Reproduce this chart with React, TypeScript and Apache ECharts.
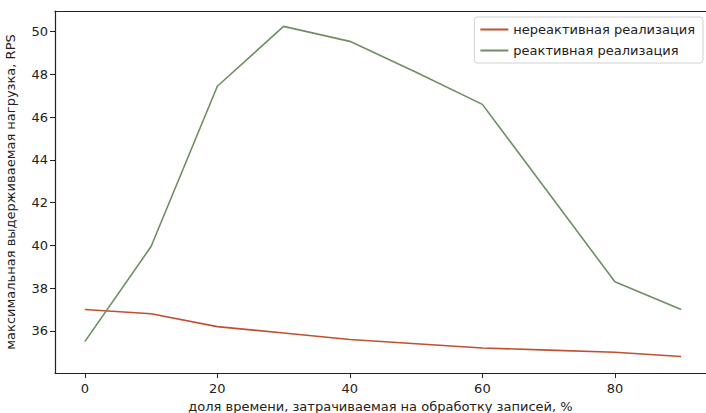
import React, { useEffect, useRef } from "react";
import * as echarts from "echarts";

const xValues = [0, 10, 20, 30, 40, 50, 60, 70, 80, 90];
const nonReactive = [37.0, 36.8, 36.2, 35.9, 35.6, 35.4, 35.2, 35.1, 35.0, 34.8];
const reactive = [35.5, 39.95, 47.45, 50.25, 49.55, 48.1, 46.6, 42.45, 38.3, 37.0];
const xTicks = [0, 20, 40, 60, 80];
const yTicks = [36, 38, 40, 42, 44, 46, 48, 50];
const seriesNames = ["нереактивная реализация", "реактивная реализация"];

const FONT = "DejaVu Sans";

export default function App() {
  const ref = useRef<HTMLDivElement>(null);
  useEffect(() => {
    if (!ref.current) return;
    const chart = echarts.init(ref.current, undefined, { renderer: "svg" });
    const axisLine = { show: true, onZero: false, lineStyle: { color: "#222", width: 1.2 } };
    chart.setOption({
      animation: false,
      backgroundColor: "#fff",
      grid: { left: 55, right: 0, top: 11, bottom: 40, outerBoundsMode: "none", containLabel: false },
      legend: {
        orient: "vertical",
        right: 3,
        top: 17,
        data: seriesNames,
        icon: "rect",
        itemWidth: 28,
        itemHeight: 2,
        itemGap: 8,
        padding: [6, 8, 6, 6],
        borderColor: "#d0d0d0",
        borderWidth: 1,
        borderRadius: 3,
        textStyle: { fontFamily: FONT, fontSize: 13, color: "#222" },
      },
      xAxis: [
        {
          type: "value",
          min: -4.5,
          max: 93.75,
          position: "bottom",
          name: "доля времени, затрачиваемая на обработку записей, %",
          nameLocation: "middle",
          nameGap: 27,
          nameTextStyle: { fontFamily: FONT, fontSize: 13, color: "#222" },
          axisLine,
          axisTick: { show: true, customValues: xTicks, length: 5, lineStyle: { color: "#222" } },
          axisLabel: { customValues: xTicks, fontFamily: FONT, fontSize: 13, color: "#222", margin: 9 },
          splitLine: { show: false },
        },
        {
          type: "value",
          min: -4.5,
          max: 93.75,
          position: "top",
          axisLine,
          axisTick: { show: false },
          axisLabel: { show: false },
          splitLine: { show: false },
        },
      ],
      yAxis: {
        type: "value",
        min: 34.03,
        max: 50.97,
        name: "максимальная выдерживаемая нагрузка, RPS",
        nameLocation: "middle",
        nameGap: 38,
        nameTextStyle: { fontFamily: FONT, fontSize: 13, color: "#222" },
        axisLine,
        axisTick: { show: true, customValues: yTicks, length: 5, lineStyle: { color: "#222" } },
        axisLabel: { customValues: yTicks, fontFamily: FONT, fontSize: 13, color: "#222", margin: 7 },
        splitLine: { show: false },
      },
      series: [
        {
          name: seriesNames[0],
          type: "line",
          data: xValues.map((x, i) => [x, nonReactive[i]]),
          showSymbol: false,
          itemStyle: { color: "#c0502f" },
          lineStyle: { color: "#c0502f", width: 1.6 },
        },
        {
          name: seriesNames[1],
          type: "line",
          data: xValues.map((x, i) => [x, reactive[i]]),
          showSymbol: false,
          itemStyle: { color: "#6e8f62" },
          lineStyle: { color: "#6e8f62", width: 1.6 },
        },
      ],
    });
    return () => chart.dispose();
  }, []);
  return <div ref={ref} style={{ width: 706, height: 413, position: "fixed", left: 0, top: 0 }} />;
}
